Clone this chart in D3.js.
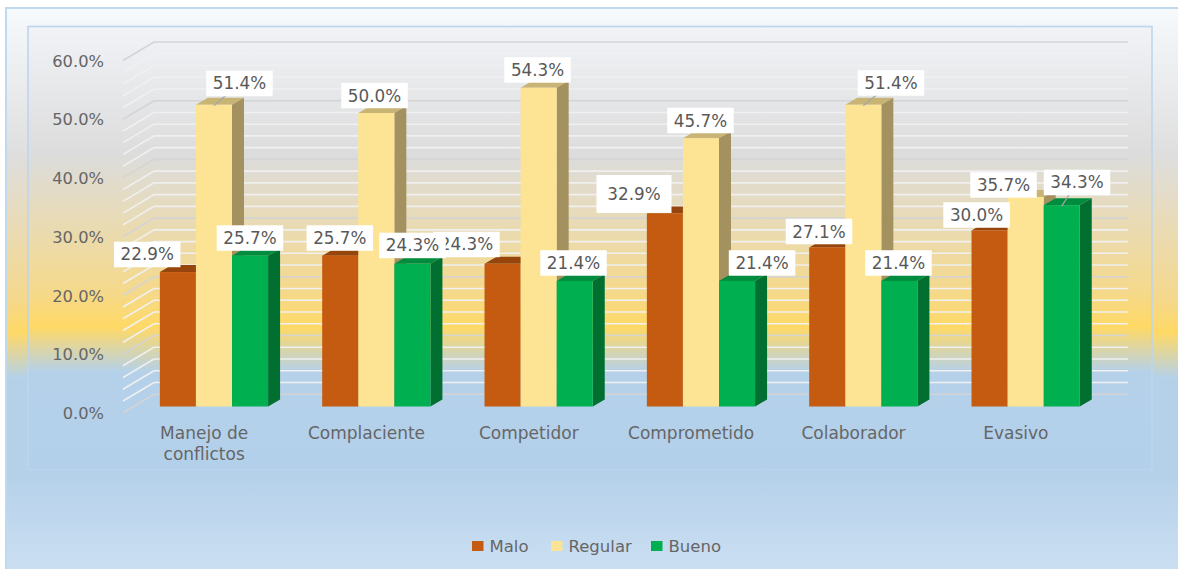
<!DOCTYPE html>
<html>
<head>
<meta charset="utf-8">
<script src="https://cdnjs.cloudflare.com/ajax/libs/d3/7.8.5/d3.min.js"></script>
<style>
html, body { margin: 0; padding: 0; background: #fff; }
svg { display: block; }
text { font-family: "DejaVu Sans", sans-serif; fill: #595959; }
</style>
</head>
<body>
<svg id="chart" width="1178" height="569"></svg>
<script>
const categories = ["Manejo de conflictos", "Complaciente", "Competidor", "Comprometido", "Colaborador", "Evasivo"];
const seriesNames = ["Malo", "Regular", "Bueno"];
const malo = [22.9, 25.7, 24.3, 32.9, 27.1, 30.0];
const regular = [51.4, 50.0, 54.3, 45.7, 51.4, 35.7];
const bueno = [25.7, 24.3, 21.4, 21.4, 21.4, 34.3];
const yTicks = [0, 10, 20, 30, 40, 50, 60];
const yGrid = d3.range(0, 61, 2);

// labels were dragged by hand in the original, offset from the top of the bar
const maloLabelShift = [[-30.7, -17.6], [-0.4, -17.6], [-36.1, -19.4], [-30.9, -19.4], [-8.2, -15.9], [-13, -15.4]];
const regularLabelShift = [[25.5, -21.3], [-1.8, -17.5], [-1.1, -17.8], [-0.5, -17.7], [27.7, -21.8], [-22.1, -12]];
const buenoLabelShift = [[-0.1, -17.6], [0.1, -18.4], [-1.2, -17.9], [25, -17.9], [-0.9, -17.9], [15.3, -22.7]];
// series index, category index of the labels that have a leader line
const leaderLines = [[1, 0], [1, 4], [2, 5]];

const faces = {
  Malo: { front: "#c55a11", top: "#96460c", side: "#96460c" },
  Regular: { front: "#fde494", top: "#c8b474", side: "#a39160" },
  Bueno: { front: "#00b050", top: "#008c3e", side: "#006f30" }
};

const svg = d3.select("#chart");
const defs = svg.append("defs");

function vGrad(id, stops) {
  const g = defs.append("linearGradient").attr("id", id)
    .attr("x1", 0).attr("y1", 0).attr("x2", 0).attr("y2", 1);
  stops.forEach(s => g.append("stop").attr("offset", s[0]).attr("stop-color", s[1]));
}

// outer panel, y runs from 8 to 569
vGrad("outerBg", [[0, "#f6fafd"], [0.26, "#dedede"], [0.51, "#f4d88c"], [0.569, "#ffd966"], [0.649, "#b5d1ea"], [0.82, "#b5d1ea"], [1, "#cde0f3"]]);
// inner panel, y runs from 26 to 470
vGrad("innerBg", [[0, "#f1f3f7"], [0.29, "#dcdcdc"], [0.6, "#f5d98b"], [0.678, "#ffd966"], [0.78, "#b5d1ea"], [1, "#b3d0ea"]]);
// border fades out towards the bottom
vGrad("innerBorder", [[0, "#bcd6ed"], [0.8, "#bcd6ed"], [1, "#b9d4ec"]]);

svg.append("rect").attr("x", 6).attr("y", 8).attr("width", 1180).attr("height", 570)
  .attr("fill", "url(#outerBg)").attr("stroke", "#bfd9ef").attr("stroke-width", 2);
svg.append("rect").attr("x", 28).attr("y", 26.5).attr("width", 1124).attr("height", 443)
  .attr("fill", "url(#innerBg)").attr("stroke", "url(#innerBorder)").attr("stroke-width", 1.6);

const depthX = 31, depthY = 18.5;
const y = d3.scaleLinear().domain([0, 60]).range([412.7, 60.5]);
const x = d3.scaleBand().domain(categories).range([123, 1097]).paddingInner(1 / 3).paddingOuter(1 / 6);
const xBar = d3.scaleBand().domain(seriesNames).range([0, x.bandwidth()]);

// walls
const grid = svg.append("g");
yGrid.forEach(v => {
  const major = v % 10 === 0;
  const c = major ? "#d4d4d4" : "#f0f0f0";
  grid.append("path")
    .attr("d", `M${x.range()[0]},${y(v)}L${x.range()[0] + depthX},${y(v) - depthY}L${x.range()[1] + depthX},${y(v) - depthY}`)
    .attr("fill", "none").attr("stroke", c).attr("stroke-width", 1.6);
});

const yAxis = d3.axisLeft(y).tickValues(yTicks).tickFormat(d => d.toFixed(1) + "%").tickSize(0);
const gy = svg.append("g").attr("transform", "translate(107,0.5)").call(yAxis);
gy.select(".domain").remove();
gy.selectAll("text").attr("font-size", 16.3).style("fill", "#666");

const barDx = 9.8, barDy = -6.2, barDepthX = 12, barDepthY = 7;
const seriesValues = [malo, regular, bueno];

const bars = svg.append("g");
categories.forEach((cat, i) => {
  seriesNames.forEach((name, s) => {
    const left = x(cat) + xBar(name) + barDx;
    const right = left + xBar.bandwidth();
    const top = y(seriesValues[s][i]) + barDy;
    const bottom = y(0) + barDy;
    const f = faces[name];
    const bar = bars.append("g");
    bar.append("path").attr("fill", f.top)
      .attr("d", `M${left},${top}L${left + barDepthX},${top - barDepthY}L${right + barDepthX},${top - barDepthY}L${right},${top}Z`);
    bar.append("path").attr("fill", f.side)
      .attr("d", `M${right},${top}L${right + barDepthX},${top - barDepthY}L${right + barDepthX},${bottom - barDepthY}L${right},${bottom}Z`);
    bar.append("rect").attr("fill", f.front)
      .attr("x", left).attr("y", top).attr("width", xBar.bandwidth()).attr("height", bottom - top);
  });
});

// category labels
const catLabels = svg.append("g").attr("font-size", 17);
categories.forEach(cat => {
  const cx = x(cat) + x.bandwidth() / 2;
  const t = catLabels.append("text").attr("text-anchor", "middle").style("fill", "#666");
  const lines = cat === "Manejo de conflictos" ? ["Manejo de", "conflictos"] : [cat];
  lines.forEach((l, k) => t.append("tspan").attr("x", cx).attr("y", 439 + k * 20.5).text(l));
});

// data labels, series by series so later boxes sit over earlier ones
const labelShifts = [maloLabelShift, regularLabelShift, buenoLabelShift];
const labelPos = (s, i) => [
  x(categories[i]) + xBar(seriesNames[s]) + xBar.bandwidth() / 2 + barDx + labelShifts[s][i][0],
  y(seriesValues[s][i]) + barDy + labelShifts[s][i][1]
];
const labels = svg.append("g");
leaderLines.forEach(([s, i]) => {
  const [cx, cy] = labelPos(s, i);
  labels.append("line")
    .attr("x1", x(categories[i]) + xBar(seriesNames[s]) + xBar.bandwidth() / 2 + barDx)
    .attr("y1", y(seriesValues[s][i]) + barDy + 1)
    .attr("x2", cx).attr("y2", cy)
    .attr("stroke", "#a6a6a6").attr("stroke-width", 1.2);
});
seriesNames.forEach((name, s) => {
  categories.forEach((cat, i) => {
    const v = seriesValues[s][i];
    const [cx, cy] = labelPos(s, i);
    // the 32.9% box is the only one resized in the original
    const big = s === 0 && i === 3;
    const boxW = big ? 75 : 66.5, boxH = big ? 38 : 25.5;
    labels.append("rect").attr("x", cx - boxW / 2).attr("y", cy - boxH / 2)
      .attr("width", boxW).attr("height", boxH).attr("fill", "#fff");
    labels.append("text").attr("x", cx).attr("y", cy + 6).attr("text-anchor", "middle")
      .attr("font-size", 16.8).text(v.toFixed(1) + "%");
  });
});

// legend
const legendX = d3.scaleOrdinal().domain(seriesNames).range([472, 551, 651]);
const legend = svg.append("g");
seriesNames.forEach(name => {
  legend.append("rect").attr("x", legendX(name)).attr("y", 541).attr("width", 11.5).attr("height", 10)
    .attr("fill", faces[name].front);
  legend.append("text").attr("x", legendX(name) + 17.5).attr("y", 551.5).attr("font-size", 16.5).style("fill", "#666").text(name);
});
</script>
</body>
</html>
